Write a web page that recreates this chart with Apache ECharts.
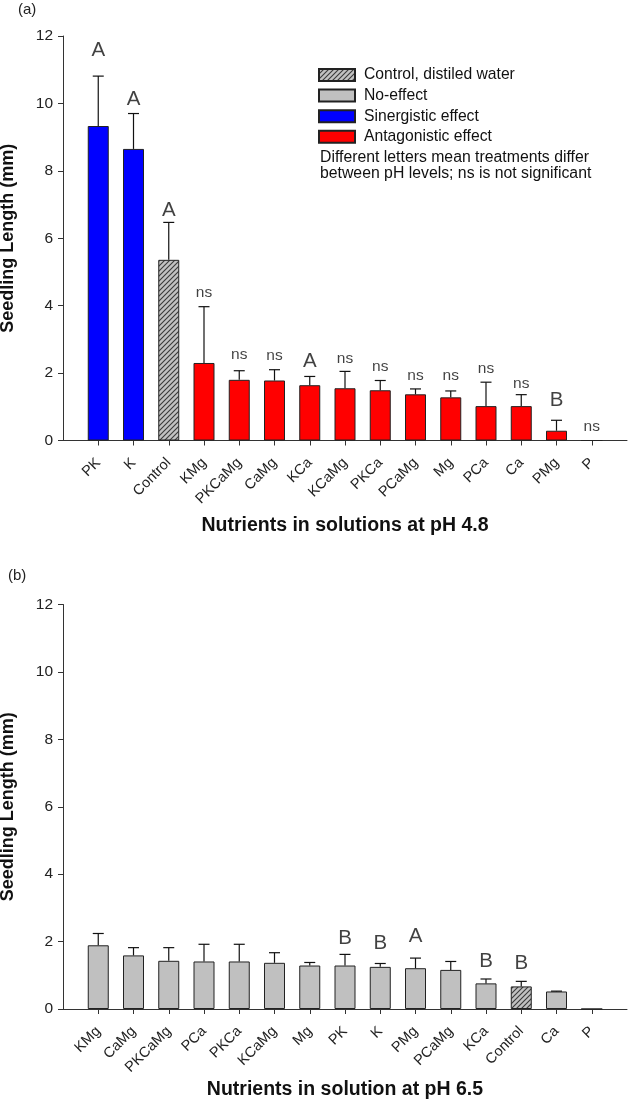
<!DOCTYPE html>
<html><head><meta charset="utf-8">
<script src="https://cdn.jsdelivr.net/npm/echarts@6/dist/echarts.min.js"></script>
<style>html,body{margin:0;padding:0;background:#fff}#c{width:629px;height:1103px}</style>
</head><body><div id="c"></div>
<script>
// ---- data: panel (a) pH 4.8 ----
const categoriesA = ['PK','K','Control','KMg','PKCaMg','CaMg','KCa','KCaMg','PKCa','PCaMg','Mg','PCa','Ca','PMg','P'];
const valuesA = [9.33,8.65,5.36,2.30,1.80,1.78,1.64,1.55,1.49,1.37,1.28,1.02,1.02,0.29,0];
const errTopA = [10.81,9.70,6.47,3.97,2.07,2.10,1.90,2.05,1.78,1.53,1.47,1.73,1.36,0.60,0];
const typesA = ['syn','syn','control','ant','ant','ant','ant','ant','ant','ant','ant','ant','ant','ant','ant'];
const lettersA = ['A','A','A','ns','ns','ns','A','ns','ns','ns','ns','ns','ns','B','ns'];
const letterYA = [11.56,10.12,6.84,4.38,2.55,2.52,2.35,2.42,2.20,1.93,1.93,2.12,1.69,1.19,0.42];
// ---- data: panel (b) pH 6.5 ----
const categoriesB = ['KMg','CaMg','PKCaMg','PCa','PKCa','KCaMg','Mg','PK','K','PMg','PCaMg','KCa','Control','Ca','P'];
const valuesB = [1.89,1.59,1.43,1.41,1.41,1.37,1.29,1.29,1.25,1.21,1.16,0.76,0.67,0.52,0];
const errTopB = [2.24,1.82,1.82,1.92,1.92,1.67,1.38,1.62,1.35,1.51,1.41,0.89,0.82,0.53,0];
const typesB = ['none','none','none','none','none','none','none','none','none','none','none','none','control','none','none'];
const lettersB = ['','','','','','','','B','B','A','','B','B','',''];
const letterYB = [null,null,null,null,null,null,null,2.09,1.94,2.16,null,1.40,1.35,null,null];
const yTicks = [0,2,4,6,8,10,12];
const legendNames = {control:'Control, distiled water', none:'No-effect', syn:'Sinergistic effect', ant:'Antagonistic effect'};
const xTitleA = 'Nutrients in solutions at pH 4.8';
const xTitleB = 'Nutrients in solution at pH 6.5';
const yTitle = 'Seedling Length (mm)';

function hatch(){
  const s=5, c=document.createElement('canvas'); c.width=s; c.height=s;
  const g=c.getContext('2d'); g.fillStyle='#c2c2c2'; g.fillRect(0,0,s,s);
  g.strokeStyle='#3a3a3a'; g.lineWidth=1.1; g.beginPath();
  g.moveTo(0,s); g.lineTo(s,0); g.moveTo(-1,1); g.lineTo(1,-1); g.moveTo(s-1,s+1); g.lineTo(s+1,s-1); g.stroke();
  return c;
}
const colorMap = {control:{image:hatch(),repeat:'repeat'}, none:'#c0c0c0', syn:'#0000ff', ant:'#ff0000'};
const typeOrder = ['control','none','syn','ant'];
const FONT = '"Liberation Sans", Arial, sans-serif';

const chart = echarts.init(document.getElementById('c'), null, {renderer:'canvas'});
const series = [];
const xAxes = [], yAxes = [], grids = [];
const panels = [
  {cats:categoriesA, vals:valuesA, err:errTopA, types:typesA, letters:lettersA, ly:letterYA, top:36, title:xTitleA, gap:75},
  {cats:categoriesB, vals:valuesB, err:errTopB, types:typesB, letters:lettersB, ly:letterYB, top:604.5, title:xTitleB, gap:71}
];
panels.forEach((p, gi) => {
  grids.push({left:63, width:564, top:p.top, height:404.5, containLabel:false, outerBoundsMode:'none'});
  const padded = [''].concat(p.cats, ['']);
  xAxes.push({type:'category', gridIndex:gi, data:padded, boundaryGap:false,
    axisLine:{lineStyle:{color:'#333', width:1}},
    axisTick:{length:5, lineStyle:{color:'#333'}, interval:(i)=> i>0 && i<padded.length-1},
    axisLabel:{rotate:45, interval:0, margin:20, fontSize:14.5, color:'#222', fontFamily:FONT},
    name:p.title, nameLocation:'middle', nameGap:p.gap,
    nameTextStyle:{fontSize:19.5, fontWeight:'bold', color:'#111', fontFamily:FONT},
    splitLine:{show:false}});
  yAxes.push({type:'value', gridIndex:gi, min:0, max:12, interval:2,
    axisLine:{show:true, lineStyle:{color:'#333', width:1}},
    axisTick:{show:true, length:5, lineStyle:{color:'#333'}},
    axisLabel:{margin:10, fontSize:15.5, color:'#222', fontFamily:FONT, formatter:(v)=> yTicks.includes(v)? String(v):''},
    splitLine:{show:false},
    name:yTitle, nameLocation:'middle', nameRotate:90, nameGap:46,
    nameTextStyle:{fontSize:18, fontWeight:'bold', color:'#111', fontFamily:FONT}});
  typeOrder.forEach(t => {
    series.push({type:'bar', name:legendNames[t], xAxisIndex:gi, yAxisIndex:gi, stack:'s'+gi, barWidth:21,
      itemStyle:{color:colorMap[t], borderColor:'#222', borderWidth:1},
      emphasis:{disabled:true}, animation:false,
      data:[ '-' ].concat(p.vals.map((v,i)=> p.types[i]===t ? v : '-'), ['-'])});
  });
  series.push({type:'custom', xAxisIndex:gi, yAxisIndex:gi, z:5, animation:false,
    data:p.vals.map((v,i)=>[i+1, v, p.err[i]]).filter(d=>d[2]>d[1]),
    renderItem:(params, api)=>{
      const x=api.value(0), v=api.value(1), e=api.value(2);
      const a=api.coord([x,v]), b=api.coord([x,e]);
      const st={stroke:'#111', lineWidth:1.2};
      return {type:'group', children:[
        {type:'line', shape:{x1:a[0],y1:a[1],x2:b[0],y2:b[1]}, style:st},
        {type:'line', shape:{x1:b[0]-5.5,y1:b[1],x2:b[0]+5.5,y2:b[1]}, style:st}]};
    }});
  series.push({type:'scatter', xAxisIndex:gi, yAxisIndex:gi, symbolSize:0, z:6, animation:false, silent:true,
    data:p.letters.map((l,i)=> l ? {value:[i+1, p.ly[i]], label:{show:true, position:'inside', formatter:l,
      fontSize: l==='ns'?15.5:20.5, color:'#111', fontFamily:FONT}} : null).filter(d=>d)});
});

chart.setOption({
  animation:false,
  textStyle:{fontFamily:FONT},
  grid:grids, xAxis:xAxes, yAxis:yAxes, series:series,
  legend:{show:true, orient:'vertical', left:318, top:67, padding:0, itemGap:4.6, itemWidth:36, itemHeight:12,
    icon:'rect', selectedMode:false,
    data:typeOrder.map(t=>legendNames[t]),
    textStyle:{fontSize:15.7, color:'#111', fontFamily:FONT, lineHeight:16, padding:[0,0,0,4]}},
  graphic:[
    {type:'text', left:18, top:2, style:{text:'(a)', fontSize:15, fill:'#222', fontFamily:FONT}},
    {type:'text', left:8, top:568, style:{text:'(b)', fontSize:15, fill:'#222', fontFamily:FONT}},
    {type:'text', left:320, top:149, style:{text:'Different letters mean treatments differ\nbetween pH levels; ns is not significant',
      fontSize:15.8, lineHeight:16.7, fill:'#111', fontFamily:FONT}}
  ]
});
</script></body></html>
